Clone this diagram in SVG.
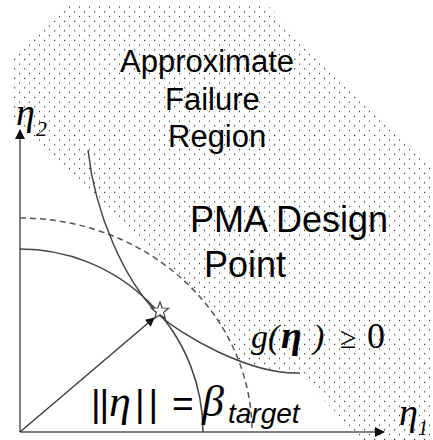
<svg xmlns="http://www.w3.org/2000/svg" width="433" height="440" viewBox="0 0 433 440">
<style>
  .sans { font-family: "Liberation Sans", Arial, sans-serif; fill: #000; }
  .serif { font-family: "Liberation Serif", "Times New Roman", serif; fill: #000; }
  .axis { stroke: #808080; stroke-width: 2; fill: none; }
  .curve { stroke: #444; stroke-width: 1.5; fill: none; }
  .dash { stroke: #555; stroke-width: 1.5; fill: none; stroke-dasharray: 6 4; }
</style>
<defs>
  <pattern id="dots" x="0" y="0" width="10" height="9.5" patternUnits="userSpaceOnUse">
    <rect x="9" y="6.5" width="1.2" height="1.2" fill="#222"/>
    <rect x="4" y="1.75" width="1.2" height="1.2" fill="#222"/>
  </pattern>
  <mask id="regionMask" maskUnits="userSpaceOnUse" x="0" y="0" width="433" height="440">
    <polygon points="69,5 267,5 433,168 433,440 362,440 298,373 200,400 165,260 10,120 10,62" fill="#fff"/>
    <ellipse cx="20" cy="432" rx="232" ry="214" fill="#000"/>
    <path d="M157,313 C180,335 250,375 300,373 L300,440 L157,440 Z" fill="#000"/>
  </mask>
  <marker id="axisHead" viewBox="0 0 10 10" refX="9" refY="5" markerWidth="10" markerHeight="10" markerUnits="userSpaceOnUse" orient="auto">
    <path d="M0,0 L10,5 L0,10 Z" fill="#111"/>
  </marker>
  <marker id="vecHead" viewBox="0 0 10 10" refX="9" refY="5" markerWidth="11" markerHeight="9" markerUnits="userSpaceOnUse" orient="auto">
    <path d="M0,0 L10,5 L0,10 Z" fill="#111"/>
  </marker>
</defs>

<g id="failure-region">
  <rect x="0" y="0" width="433" height="440" fill="url(#dots)" mask="url(#regionMask)"/>
</g>

<g id="axes">
  <line class="axis" x1="20" y1="432" x2="20" y2="130" marker-end="url(#axisHead)"/>
  <line class="axis" x1="20" y1="432" x2="384" y2="432" marker-end="url(#axisHead)"/>
</g>

<g id="connectors">
  <path id="dashed-limit" class="dash" d="M20,218 A232,214 0 0 1 252,432"/>
  <path id="beta-circle" class="curve" d="M20,249 A183,183 0 0 1 203,432"/>
  <path id="g-curve" class="curve" d="M88,150 C95,215 125,280 157,313 C180,335 250,375 300,373"/>
  <line id="eta-vector" stroke="#333" stroke-width="1.3" x1="20" y1="432" x2="154" y2="318" marker-end="url(#vecHead)"/>
</g>

<g id="pma-point">
  <polygon points="160,302 162.2,308 168.6,308.2 163.6,312.2 165.3,318.3 160,314.8 154.7,318.3 156.4,312.2 151.4,308.2 157.8,308" fill="#fff" stroke="#444" stroke-width="1.2"/>
</g>

<g id="label-region">
  <text class="sans" font-size="31" x="120" y="72">Approximate</text>
  <text class="sans" font-size="31" x="165" y="110">Failure</text>
  <text class="sans" font-size="31" x="168" y="147">Region</text>
</g>

<g id="label-pma">
  <text class="sans" font-size="36" x="190" y="232">PMA Design</text>
  <text class="sans" font-size="36" x="204" y="277">Point</text>
</g>

<g id="label-g">
  <text class="serif" font-size="34" y="348"><tspan x="251" font-style="italic">g</tspan><tspan x="268" font-style="italic">(</tspan><tspan x="281" font-style="italic" font-weight="bold" font-size="38">η</tspan><tspan x="313" font-style="italic">)</tspan><tspan x="340" font-size="30">≥</tspan><tspan x="367" font-size="36">0</tspan></text>
</g>

<g id="label-norm">
  <text y="416"><tspan class="sans" x="91" font-size="37" letter-spacing="-1">||</tspan><tspan class="serif" x="109" font-size="44" font-style="italic">η</tspan><tspan class="sans" x="135" font-size="37" letter-spacing="4">||</tspan><tspan class="sans" x="172" font-size="37">=</tspan><tspan class="serif" x="202" font-size="44" font-style="italic">β</tspan><tspan class="sans" x="228" y="423" font-size="28" font-style="italic">target</tspan></text>
</g>

<g id="label-axes">
  <text class="serif" font-style="italic" y="125"><tspan x="16" font-size="38">η</tspan><tspan x="36" y="136" font-size="22">2</tspan></text>
  <text class="serif" font-style="italic" y="425"><tspan x="399" font-size="38">η</tspan><tspan x="418" y="435" font-size="20">1</tspan></text>
</g>
</svg>
